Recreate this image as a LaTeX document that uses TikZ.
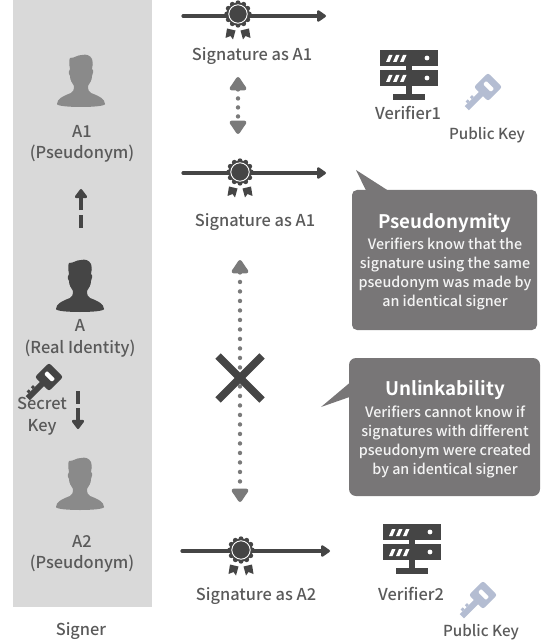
\documentclass[tikz,border=0pt]{standalone}
\usepackage{fontspec}
\setmainfont[BoldFont={Noto Sans CJK JP Bold}]{Noto Sans CJK JP Medium}
\usepackage{xcolor}
\usepackage{tikz}
\usetikzlibrary{arrows.meta, positioning}
\definecolor{bandgray}{HTML}{D9D9D9}
\definecolor{darkicon}{HTML}{454545}
\definecolor{midicon}{HTML}{8A8A8A}
\definecolor{dotgray}{HTML}{7A7A7A}
\definecolor{labelgray}{HTML}{5A5A5A}
\definecolor{calloutgray}{HTML}{787677}
\definecolor{keyblue}{HTML}{B4BDD2}
\definecolor{calloutwhite}{HTML}{F4F4F4}

\begin{document}
\begin{tikzpicture}[
    x=1pt, y=-1pt,
    label/.style={text=labelgray, font=\fontsize{16.4}{21.5}\selectfont, align=center, inner sep=0pt},
    callout/.style={text=calloutwhite, font=\fontsize{14.3}{18.7}\selectfont, align=center, inner sep=0pt},
    calltitle/.style={text=white, font=\fontsize{18.7}{22}\selectfont\bfseries, inner sep=0pt},
    sigline/.style={draw=darkicon, line width=3.2pt, -{Triangle[length=10pt, width=13pt, round]}, line cap=round},
    dotlink/.style={draw=dotgray, line width=4.4pt, line cap=round, dash pattern=on 0pt off 9pt, {Triangle[length=15pt, width=19pt, round]}-{Triangle[length=15pt, width=19pt, round]}},
    dotlong/.style={dotlink, dash pattern=on 0pt off 9.5pt},
    keystep/.style={draw=darkicon, line width=3.2pt, -{Triangle[length=10pt, width=14pt, round]}},
    crossbar/.style={draw=darkicon, line width=7.5pt},
    person/.pic={
        \fill[pic actions] (-24,49) .. controls (-24,44) and (-18,41) .. (-10,38)
            .. controls (-8,37) and (-7,35) .. (-7,31)
            .. controls (-9,28) and (-11,25) .. (-11,21)
            .. controls (-13,18) and (-12,15) .. (-11,14)
            .. controls (-12,9) and (-12,5) .. (-11,3)
            .. controls (-6,3) and (-4,0) .. (1,0)
            .. controls (5,-1) and (9,0) .. (11,4)
            .. controls (12,8) and (12,11) .. (11,14)
            .. controls (13,15) and (12,19) .. (11,21)
            .. controls (11,25) and (9,28) .. (7,31)
            .. controls (7,35) and (8,37) .. (10,38)
            .. controls (18,41) and (24,44) .. (24,49)
            .. controls (24,53) and (-24,53) .. (-24,49) -- cycle;
    },
    medal/.pic={
        \fill[darkicon] (0,0) circle (11.5);
        \foreach \a in {0,30,...,330}
            \fill[darkicon] (\a:11.2) circle (2.5);
        \draw[white, line width=0.9pt] (0,0) circle (9.2);
        \fill[darkicon] (-11,14.5) -- (-2.5,16.5) -- (-5,25.5) -- (-7.5,22) -- (-12.5,24) -- cycle;
        \fill[darkicon] (11,14.5) -- (2.5,16.5) -- (5,25.5) -- (7.5,22) -- (12.5,24) -- cycle;
    },
    server/.pic={
        \fill[darkicon] (-29,0) rectangle (29,16);
        \fill[darkicon] (-29,20) rectangle (29,36);
        \fill[darkicon] (-3,16) rectangle (3,20);
        \fill[darkicon] (-3,36) rectangle (3,46);
        \fill[darkicon] (-16,44) rectangle (16,50);
        \foreach \y in {0,20} {
            \foreach \x in {-21,-14,-7}
                \fill[white] (\x-2,\y+12) -- (\x+1.5,\y+12) -- (\x+4.5,\y+5) -- (\x+1,\y+5) -- cycle;
            \fill[white] (18,\y+8) circle (2.4);
        }
    },
    keyicon/.pic={
        \fill[pic actions, rounded corners=2.5pt] (-10,-10) rectangle (10,10);
        \fill[pic actions] (-3,9) rectangle (3,30);
        \fill[pic actions] (-3,23) rectangle (-5.5,26);
        \fill[pic actions] (-3,17) rectangle (-5.5,20);
        \fill[white, rounded corners=1pt] (-5.5,-3) rectangle (5.5,1.5);
    }
]
    % Signer band
    \fill[bandgray] (13,0) rectangle (152,607);

    % Signer side
    \pic[midicon] at (81,55) {person};
    \pic[darkicon] at (80,260) {person};
    \pic[midicon] at (80,458) {person};
    \node[label] (aone) at (82,144) {A1\\(Pseudonym)};
    \node[label] (real) at (80,338.5) {A\\(Real Identity)};
    \node[label] (atwo) at (82,554) {A2\\(Pseudonym)};
    \node[label] (secret) at (42,416) {Secret\\Key};
    \node[label] (signer) at (81,631) {Signer};
    \pic[darkicon, rotate=-45] at (49,377) {keyicon};

    % Derivation arrows
    \coordinate (upfoot) at (81,228);
    \coordinate (uptip) at (81,189);
    \coordinate (downfoot) at (78,391);
    \coordinate (downtip) at (78,429);
    \draw[keystep, dash pattern=on 13pt off 5pt on 40pt] (upfoot) -- (uptip);
    \draw[keystep, dash pattern=on 13pt off 4pt on 40pt] (downfoot) -- (downtip);

    % Signatures
    \coordinate (sigonestart) at (183,16);
    \coordinate (sigoneend) at (326,16);
    \coordinate (sigtwostart) at (183,173);
    \coordinate (sigtwoend) at (326,173);
    \coordinate (sigthreestart) at (182,551);
    \coordinate (sigthreeend) at (330,551);
    \draw[sigline] (sigonestart) -- (sigoneend);
    \draw[sigline] (sigtwostart) -- (sigtwoend);
    \draw[sigline] (sigthreestart) -- (sigthreeend);
    \pic at (238,14) {medal};
    \pic at (240,172) {medal};
    \pic at (241,550) {medal};
    \node[label] (sigone) at (252,56) {Signature as A1};
    \node[label] (sigtwo) at (255,222) {Signature as A1};
    \node[label] (sigthree) at (256,596) {Signature as A2};

    % Links between signatures
    \coordinate (nearup) at (238,77);
    \coordinate (neardown) at (238,134);
    \coordinate (farup) at (240,260);
    \coordinate (fardown) at (240,502);
    \draw[dotlink] (nearup) -- (neardown);
    \draw[dotlong] (farup) -- (fardown);
    \coordinate (crossa) at (218,356);
    \coordinate (crossb) at (262,400);
    \coordinate (crossc) at (262,356);
    \coordinate (crossd) at (218,400);
    \draw[crossbar] (crossa) -- (crossb);
    \draw[crossbar] (crossc) -- (crossd);

    % Verifiers
    \pic at (409,50) {server};
    \pic at (412,524) {server};
    \node[label] (verone) at (408,113) {Verifier1};
    \node[label] (vertwo) at (411,594) {Verifier2};
    \pic[keyblue, rotate=-45] at (488,87) {keyicon};
    \pic[keyblue, rotate=-45] at (483,595) {keyicon};
    \node[label, font=\fontsize{15.2}{18}\selectfont] (pubone) at (487,135) {Public Key};
    \node[label, font=\fontsize{15.2}{18}\selectfont] (pubtwo) at (481,632) {Public Key};

    % Callouts
    \fill[calloutgray, rounded corners=5pt] (352,190) rectangle (537,330);
    \fill[calloutgray] (356,170) -- (388,190.5) -- (366,190.5) -- cycle;
    \node[calltitle] (pseudo) at (445,223) {Pseudonymity};
    \node[callout] (pseudotext) at (445,274) {Verifiers know that the\\signature using the same\\pseudonym was made by\\an identical signer};
    \fill[calloutgray, rounded corners=7pt] (349,358) rectangle (540,496);
    \fill[calloutgray] (321,407) -- (349.5,383) -- (349.5,397) -- cycle;
    \node[calltitle] (unlink) at (445,390) {Unlinkability};
    \node[callout] (unlinktext) at (445,442) {Verifiers cannot know if\\signatures with different\\pseudonym were created\\by an identical signer};

    \useasboundingbox (0,0) rectangle (548,644);
\end{tikzpicture}
\end{document}
